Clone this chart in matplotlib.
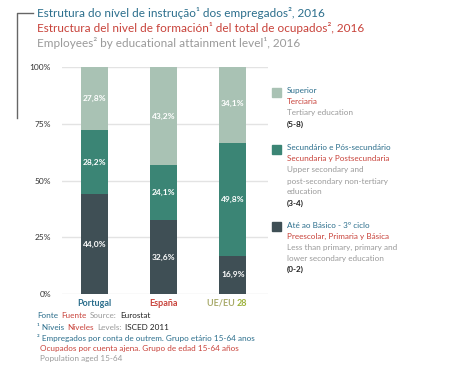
import matplotlib
matplotlib.use("Agg")
import matplotlib.pyplot as plt
from matplotlib.lines import Line2D
from matplotlib.patches import Rectangle
from matplotlib.text import Annotation

plt.rcParams['font.family'] = ['Lato', 'DejaVu Sans']

categories = ["Portugal", "España", "UE/EU 28"]
basico = [44.0, 32.6, 16.9]
secundario = [28.2, 24.1, 49.8]
superior = [27.8, 43.2, 34.1]
yticks = [0, 25, 50, 75, 100]

C_SUP = "#a9c2b4"
C_SEC = "#3b8575"
C_BAS = "#3f4f55"
BLUE = "#2b6e8c"
RED = "#c8423a"
GRAY = "#9a9a9a"
DARK = "#222222"

fig = plt.figure(figsize=(4.5, 3.85), dpi=100)
W, H = 450, 385
ax = fig.add_axes([62 / W, 1 - 294 / H, 206 / W, 227 / H])

x = list(range(len(categories)))
bw = 0.39
series = [(basico, C_BAS), (secundario, C_SEC), (superior, C_SUP)]
bottom = [0.0] * 3
for vals, col in series:
    ax.bar(x, vals, bw, bottom=bottom, color=col, zorder=3, linewidth=0)
    for i, v in enumerate(vals):
        ax.text(x[i], bottom[i] + v / 2, f"{v:.1f}%".replace(".", ","),
                ha="center", va="center", color="white", fontsize=6,
                fontweight="bold", zorder=4)
    bottom = [b + v for b, v in zip(bottom, vals)]

ax.set_xlim(-0.47, 2.51)
ax.set_ylim(0, 100)
ax.set_yticks(yticks)
ax.set_yticklabels([f"{t}%" for t in yticks], fontsize=6, color="#333333")
ax.yaxis.grid(True, color="#e3e3e3", linewidth=1, zorder=0)
for s in ax.spines.values():
    s.set_visible(False)
ax.tick_params(axis="both", length=0, pad=8)
ax.set_xticks([])

# x category labels
lab_y = 1 - 303 / H
fig.text(94.5 / W, lab_y, categories[0], color=BLUE, fontsize=6.5, fontweight="bold", ha="center", va="center")
fig.text(163.5 / W, lab_y, categories[1], color=RED, fontsize=6.5, fontweight="bold", ha="center", va="center")
fig.text(237 / W, lab_y, "UE/EU ", color="#a8aa6a", fontsize=6.5, fontweight="bold", ha="right", va="center")
fig.text(237 / W, lab_y, "28", color="#9db23c", fontsize=6.5, fontweight="bold", ha="left", va="center")

# titles
tfs = 8.5
fig.text(37 / W, 1 - 13 / H, "Estrutura do nível de instrução¹ dos empregados², 2016",
         color=BLUE, fontsize=tfs, va="center")
fig.text(37 / W, 1 - 28 / H, "Estructura del nivel de formación¹ del total de ocupados², 2016",
         color=RED, fontsize=tfs, va="center")
fig.text(37 / W, 1 - 43 / H, "Employees² by educational attainment level¹, 2016",
         color=GRAY, fontsize=tfs, va="center")

# bracket
fig.add_artist(Line2D([17 / W, 17 / W, 33 / W], [1 - 118 / H, 1 - 13 / H, 1 - 13 / H],
                      color="#666666", linewidth=1, transform=fig.transFigure))

# legend
lfs = 5.9
leg = [
    (C_SUP, 88, [("Superior", BLUE), ("Terciaria", RED), ("Tertiary education", GRAY), ("(5-8)", DARK)]),
    (C_SEC, 145, [("Secundário e Pós-secundário", BLUE), ("Secundaria y Postsecundaria", RED),
                  ("Upper secondary and", GRAY), ("post-secondary non-tertiary", GRAY),
                  ("education", GRAY), ("(3-4)", DARK)]),
    (C_BAS, 222, [("Até ao Básico - 3º ciclo", BLUE), ("Preescolar, Primaria y Básica", RED),
                  ("Less than primary, primary and", GRAY), ("lower secondary education", GRAY),
                  ("(0-2)", DARK)]),
]
for col, ytop, lines in leg:
    fig.add_artist(Rectangle((272 / W, 1 - (ytop + 9) / H), 9 / W, 9 / H, color=col,
                             transform=fig.transFigure))
    for k, (txt, c) in enumerate(lines):
        fig.text(287 / W, 1 - (ytop + 3 + 11 * k) / H, txt, color=c, fontsize=lfs, va="center",
                 fontweight="bold" if c == DARK else "normal")

# footer
fs = 5.9
def chain(y, parts, x0=37):
    last = fig.text(x0 / W, 1 - y / H, parts[0][0], color=parts[0][1], fontsize=fs, va="center")
    for txt, c in parts[1:]:
        last = fig.add_artist(Annotation(
            txt, xy=(1, 0.5), xycoords=last, xytext=(2.5, 0), textcoords="offset points",
            va="center", ha="left", color=c, fontsize=fs))

chain(316, [("Fonte", BLUE), ("Fuente", RED), ("Source:", GRAY), ("Eurostat", DARK)])
chain(327, [("¹ Niveis", BLUE), ("Niveles", RED), ("Levels:", GRAY), ("ISCED 2011", DARK)])
fig.text(37 / W, 1 - 338 / H, "² Empregados por conta de outrem. Grupo etário 15-64 anos", color=BLUE, fontsize=fs, va="center")
fig.text(40 / W, 1 - 348.5 / H, "Ocupados por cuenta ajena. Grupo de edad 15-64 años", color=RED, fontsize=fs, va="center")
fig.text(40 / W, 1 - 359 / H, "Population aged 15-64", color=GRAY, fontsize=fs, va="center")

fig.savefig("out.png", dpi=100, facecolor="white")
